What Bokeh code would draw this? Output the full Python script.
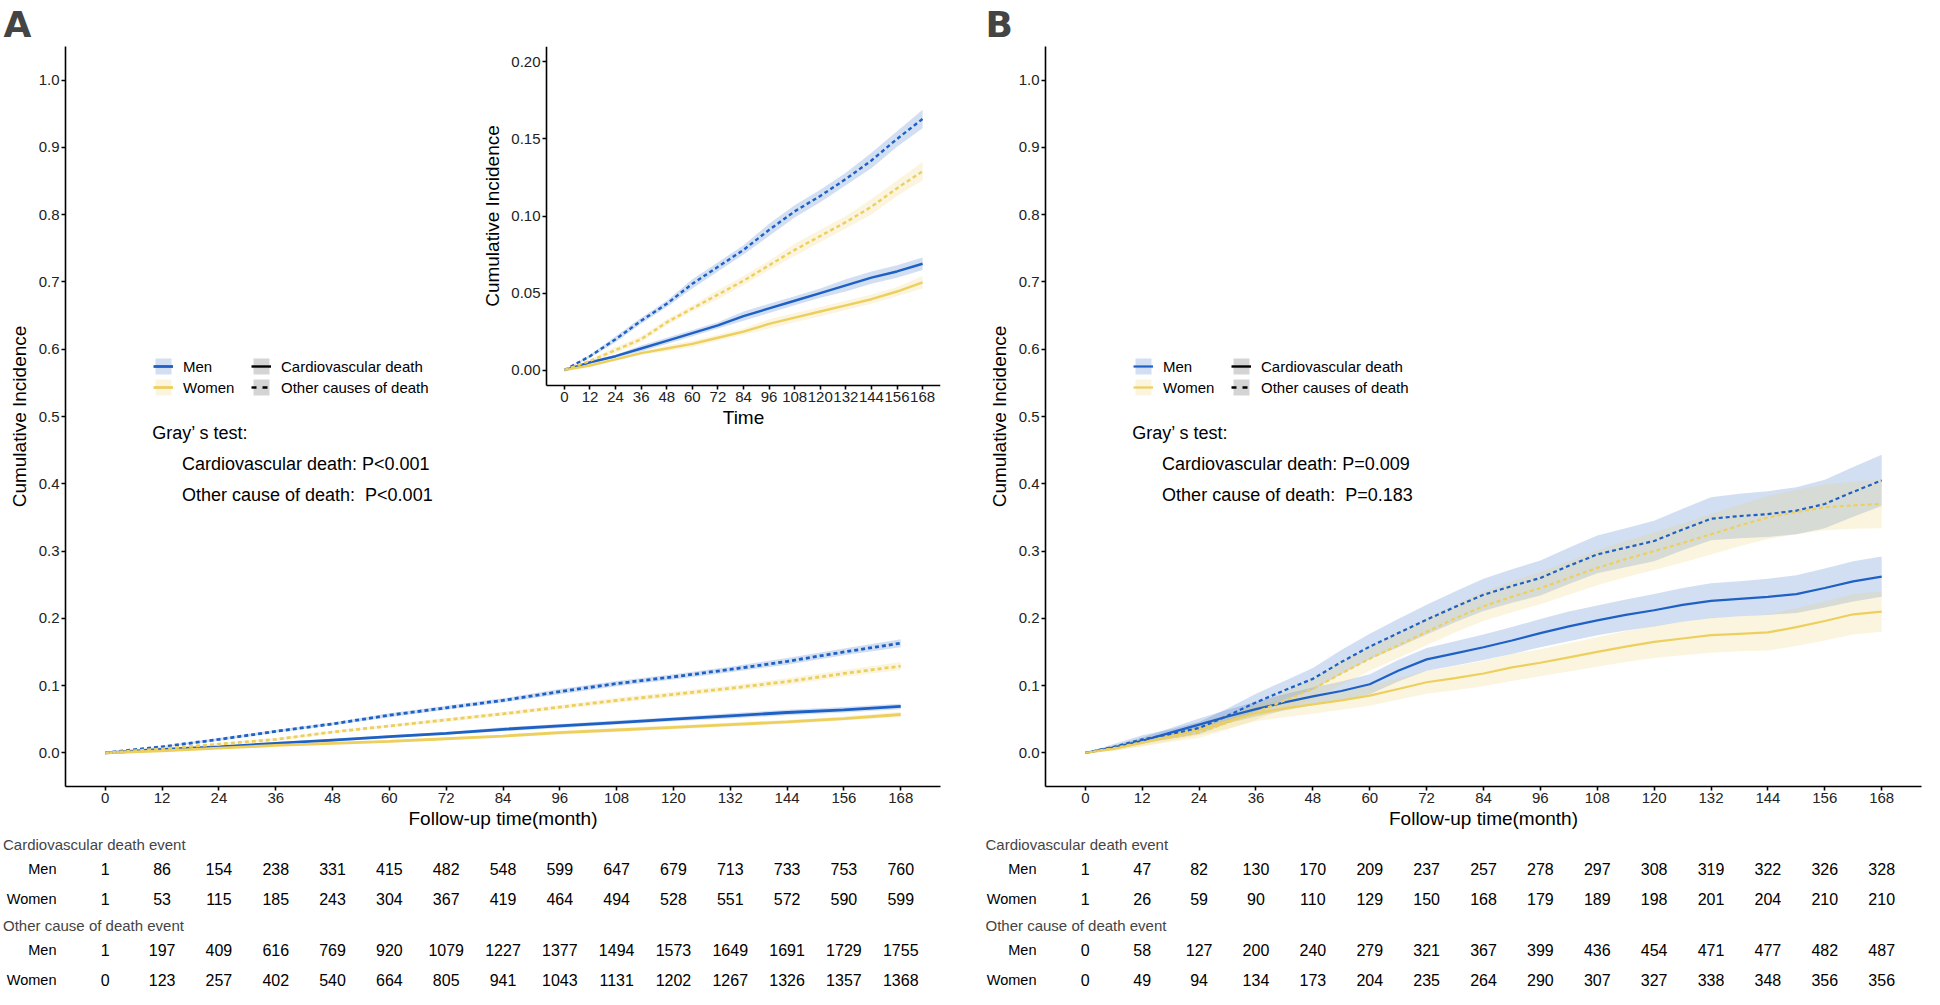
from bokeh.plotting import figure
from bokeh.models import (Range1d, LinearAxis, FixedTicker, PrintfTickFormatter, Legend,
                          LegendItem, Label, ColumnDataSource)
from bokeh.layouts import row, column
from bokeh.embed import file_html
from bokeh.resources import INLINE
from bokeh.core.properties import value

FONT = "Liberation Sans"
BLUE = "#1E60C3"
YELLOW = "#EDCF5E"
NAN = float("nan")

# ---------------- data ----------------
months_A = [0, 12, 24, 36, 48, 60, 72, 84, 96, 108, 120, 132, 144, 156, 168]
a_men_cv = [0, .005, .009, .014, .019, .024, .029, .035, .040, .045, .050, .055, .060, .064, .069]
a_men_cv_lo = [0, .004, .008, .012, .017, .022, .027, .032, .037, .042, .047, .051, .056, .060, .065]
a_men_cv_hi = [0, .006, .010, .016, .021, .026, .031, .038, .043, .048, .053, .059, .064, .068, .073]
a_women_cv = [0, .003, .007, .011, .014, .017, .021, .025, .030, .034, .038, .042, .046, .051, .057]
a_women_cv_lo = [0, .002, .006, .010, .012, .015, .019, .023, .027, .031, .035, .039, .043, .048, .053]
a_women_cv_hi = [0, .004, .008, .012, .016, .019, .023, .027, .033, .037, .041, .045, .049, .054, .061]
a_men_oc = [0, .009, .020, .032, .043, .056, .067, .078, .091, .103, .113, .124, .136, .150, .163]
a_men_oc_lo = [0, .008, .018, .030, .041, .053, .064, .075, .087, .099, .109, .120, .131, .145, .157]
a_men_oc_hi = [0, .010, .022, .034, .045, .059, .070, .081, .095, .107, .117, .128, .141, .155, .169]
a_women_oc = [0, .006, .013, .020, .031, .040, .049, .058, .068, .078, .087, .096, .106, .118, .129]
a_women_oc_lo = [0, .005, .011, .018, .029, .038, .046, .055, .065, .074, .083, .092, .101, .113, .123]
a_women_oc_hi = [0, .007, .015, .022, .033, .042, .052, .061, .071, .082, .091, .100, .111, .123, .135]

months_B = [0, 6, 12, 18, 24, 30, 36, 42, 48, 54, 60, 66, 72, 78, 84, 90, 96, 102, 108, 114,
            120, 126, 132, 138, 144, 150, 156, 162, 168]
b_men_cv = [0, .008, .018, .030, .042, .054, .065, .075, .084, .092, .102, .122, .139, .148, .157,
            .167, .178, .188, .197, .205, .212, .220, .226, .229, .232, .236, .245, .255, .262]
b_men_cv_lo = [0, .005, .013, .023, .033, .044, .054, .063, .071, .078, .087, .106, .122, .130, .138,
               .147, .157, .166, .175, .182, .188, .195, .200, .203, .205, .208, .216, .225, .232]
b_men_cv_hi = [0, .011, .023, .037, .051, .064, .076, .087, .097, .106, .117, .138, .156, .166, .176,
               .187, .199, .210, .219, .228, .236, .245, .252, .255, .259, .264, .274, .285, .292]
b_women_cv = [0, .006, .015, .025, .035, .047, .059, .066, .072, .078, .085, .095, .105, .111, .118,
              .127, .134, .142, .150, .158, .165, .170, .175, .177, .179, .187, .196, .206, .210]
b_women_cv_lo = [0, .003, .010, .018, .026, .036, .047, .053, .058, .064, .070, .079, .088, .093, .099,
                 .107, .114, .121, .128, .135, .141, .145, .149, .151, .152, .159, .167, .176, .180]
b_women_cv_hi = [0, .009, .020, .032, .044, .058, .071, .079, .086, .092, .100, .111, .122, .129, .137,
                 .147, .154, .163, .172, .181, .189, .195, .201, .203, .206, .215, .225, .236, .240]
b_men_oc = [0, .009, .020, .028, .037, .055, .075, .093, .110, .135, .158, .178, .198, .217, .235,
            .248, .260, .278, .295, .305, .315, .332, .348, .352, .355, .360, .370, .388, .405]
b_men_oc_lo = [0, .005, .014, .021, .028, .044, .062, .079, .094, .117, .139, .157, .176, .194, .211,
               .223, .234, .251, .267, .276, .285, .301, .316, .319, .321, .325, .334, .351, .367]
b_men_oc_hi = [0, .013, .026, .035, .046, .066, .088, .107, .126, .153, .177, .199, .220, .240, .259,
               .273, .286, .305, .323, .334, .345, .363, .380, .385, .389, .395, .406, .425, .443]
b_women_oc = [0, .007, .016, .023, .030, .045, .060, .078, .095, .118, .140, .160, .180, .200, .218,
              .232, .245, .260, .275, .288, .300, .312, .325, .338, .350, .358, .365, .368, .370]
b_women_oc_lo = [0, .003, .010, .016, .022, .035, .049, .065, .080, .101, .122, .141, .160, .179, .196,
                 .209, .221, .235, .249, .261, .272, .283, .295, .307, .318, .325, .331, .333, .334]
b_women_oc_hi = [0, .011, .022, .030, .038, .055, .071, .091, .110, .135, .158, .179, .200, .221, .240,
                 .255, .269, .285, .301, .315, .328, .341, .355, .369, .382, .391, .399, .403, .406]

table_times = [0, 12, 24, 36, 48, 60, 72, 84, 96, 108, 120, 132, 144, 156, 168]
a_cv_men_n = [1, 86, 154, 238, 331, 415, 482, 548, 599, 647, 679, 713, 733, 753, 760]
a_cv_women_n = [1, 53, 115, 185, 243, 304, 367, 419, 464, 494, 528, 551, 572, 590, 599]
a_oc_men_n = [1, 197, 409, 616, 769, 920, 1079, 1227, 1377, 1494, 1573, 1649, 1691, 1729, 1755]
a_oc_women_n = [0, 123, 257, 402, 540, 664, 805, 941, 1043, 1131, 1202, 1267, 1326, 1357, 1368]
b_cv_men_n = [1, 47, 82, 130, 170, 209, 237, 257, 278, 297, 308, 319, 322, 326, 328]
b_cv_women_n = [1, 26, 59, 90, 110, 129, 150, 168, 179, 189, 198, 201, 204, 210, 210]
b_oc_men_n = [0, 58, 127, 200, 240, 279, 321, 367, 399, 436, 454, 471, 477, 482, 487]
b_oc_women_n = [0, 49, 94, 134, 173, 204, 235, 264, 290, 307, 327, 338, 348, 356, 356]

x_ticks = [0, 12, 24, 36, 48, 60, 72, 84, 96, 108, 120, 132, 144, 156, 168]
y_ticks = [0.0, 0.1, 0.2, 0.3, 0.4, 0.5, 0.6, 0.7, 0.8, 0.9, 1.0]
inset_y_ticks = [0.0, 0.05, 0.10, 0.15, 0.20]
group_labels = ["Men", "Women"]
cause_labels = ["Cardiovascular death", "Other causes of death"]
table_headers = ["Cardiovascular death event", "Other cause of death event"]
gray_A = ["Gray\u2019 s test:", "Cardiovascular death: P<0.001", "Other cause of death:\u00a0 P<0.001"]
gray_B = ["Gray\u2019 s test:", "Cardiovascular death: P=0.009", "Other cause of death:\u00a0 P=0.183"]

# ---------------- layout geometry (pixels) ----------------
X0, X1 = -8.4, 176.4
Y0, Y1 = -0.05, 1.05
IY0, IY1 = -0.01, 0.21
W_A, W_B = 952, 972
H_MAIN = 833
H_T1, H_T2 = 81, 75
T_TOP = 20
TOP, BOT = 46, 47
A_LEFT, A_RIGHT = 65, 12
B_LEFT, B_RIGHT = 93, 3
INSET_LEFT_PX = 546      # inset left edge, canvas px
INSET_BOTTOM_PX = 385    # inset bottom edge, canvas px


def style_axis(ax, ticks, fmt=None, label=None, lab_standoff=2):
    ax.ticker = FixedTicker(ticks=ticks)
    if fmt:
        ax.formatter = PrintfTickFormatter(format=fmt)
    ax.axis_line_color = "black"
    ax.axis_line_width = 1.6
    ax.major_tick_line_color = "black"
    ax.major_tick_line_width = 1.6
    ax.major_tick_out = 4
    ax.major_tick_in = 0
    ax.minor_tick_line_color = None
    ax.major_label_text_font = FONT
    ax.major_label_text_font_size = "15px"
    ax.major_label_text_color = "#222222"
    ax.major_label_standoff = 2
    if label:
        ax.axis_label = label
        ax.axis_label_text_font = FONT
        ax.axis_label_text_font_size = "19px"
        ax.axis_label_text_font_style = "normal"
        ax.axis_label_text_color = "black"
        ax.axis_label_standoff = lab_standoff


def draw_set(p, t, sets, lw, **kw):
    bands, lines = [], []
    for (y, lo, hi, color, dash) in sets:
        bands.append(p.varea(x=t, y1=lo, y2=hi, fill_color=color, fill_alpha=0.2, **kw))
    for (y, lo, hi, color, dash) in sets:
        lines.append(p.line(t, y, line_color=color, line_width=lw, line_dash=dash, **kw))
    return bands, lines


def main_fig(width, left, right, letter, letter_offset, sets, lw, gray_texts, xr):
    p = figure(width=width, height=H_MAIN, x_range=xr, y_range=Range1d(Y0, Y1),
               output_backend="svg", toolbar_location=None, min_border_left=left,
               min_border_right=right, min_border_top=TOP, min_border_bottom=BOT)
    p.outline_line_color = None
    p.grid.visible = False
    p.title.text = letter
    p.title.text_font = "DejaVu Sans"
    p.title.text_font_size = "36px"
    p.title.text_font_style = "bold"
    p.title.align = "left"
    p.title.offset = letter_offset
    p.title.vertical_align = "top"
    p.title.standoff = 0
    style_axis(p.xaxis[0], x_ticks, None, "Follow-up time(month)")
    style_axis(p.yaxis[0], y_ticks, "%.1f", "Cumulative Incidence", 6)

    bands, lines = draw_set(p, sets[0], sets[1], lw)
    leg1 = Legend(items=[LegendItem(label=group_labels[0], renderers=[bands[0], lines[0]]),
                         LegendItem(label=group_labels[1], renderers=[bands[1], lines[1]])],
                  location=(88, 389))
    gbox = p.varea(x=[NAN], y1=[NAN], y2=[NAN], fill_color="black", fill_alpha=0.17)
    gl1 = p.line([NAN], [NAN], line_color="black", line_width=2.4)
    gl2 = p.line([NAN], [NAN], line_color="black", line_width=2.4, line_dash="5 6")
    leg2 = Legend(items=[LegendItem(label=cause_labels[0], renderers=[gbox, gl1]),
                         LegendItem(label=cause_labels[1], renderers=[gbox, gl2])],
                  location=(186, 389))
    for lg in (leg1, leg2):
        lg.orientation = "vertical"
        lg.glyph_width = 20
        lg.glyph_height = 20
        lg.label_height = 20
        lg.label_standoff = 10
        lg.spacing = 1
        lg.padding = 0
        lg.margin = 0
        lg.border_line_color = None
        lg.background_fill_alpha = 0
        lg.label_text_font = FONT
        lg.label_text_font_size = "15px"
        lg.label_text_color = "black"
        p.add_layout(lg)
    for txt, xx, yy in zip(gray_texts, [9.9, 16.2, 16.2], [0.475, 0.430, 0.383]):
        p.add_layout(Label(x=xx, y=yy, text=txt, text_font=FONT, text_font_size="18px",
                           text_baseline="middle", text_color="black"))
    return p


def table_fig(width, left, right, height, y_lo, header, header_offset, men_n, women_n, xr):
    t = figure(width=width, height=height, x_range=xr, y_range=Range1d(y_lo, 1.5),
               output_backend="svg", toolbar_location=None, min_border_left=left,
               min_border_right=right, min_border_top=T_TOP, min_border_bottom=0,
               x_axis_type=None)
    t.outline_line_color = None
    t.grid.visible = False
    t.title.text = header
    t.title.text_font = FONT
    t.title.text_font_size = "15px"
    t.title.text_font_style = "normal"
    t.title.align = "left"
    t.title.offset = header_offset
    t.title.vertical_align = "middle"
    t.title.standoff = 0
    ax = t.yaxis[0]
    ax.ticker = FixedTicker(ticks=[0, 1])
    ax.major_label_overrides = {0: group_labels[1], 1: group_labels[0]}
    ax.axis_line_color = None
    ax.major_tick_line_color = None
    ax.minor_tick_line_color = None
    ax.major_label_standoff = 3
    ax.major_label_text_font = FONT
    ax.major_label_text_font_size = "14.5px"
    ax.major_label_text_color = "black"
    src = ColumnDataSource(dict(x=table_times + table_times,
                                y=[1] * len(men_n) + [0] * len(women_n),
                                t=[str(v) for v in men_n + women_n]))
    t.text(x="x", y="y", text="t", source=src, text_font=value(FONT), text_font_size="16px",
           text_align="center", text_baseline="middle", text_color="black")
    return t


setsA = (months_A, [
    (a_men_cv, a_men_cv_lo, a_men_cv_hi, BLUE, "solid"),
    (a_women_cv, a_women_cv_lo, a_women_cv_hi, YELLOW, "solid"),
    (a_men_oc, a_men_oc_lo, a_men_oc_hi, BLUE, "4 3"),
    (a_women_oc, a_women_oc_lo, a_women_oc_hi, YELLOW, "4 3"),
])
setsB = (months_B, [
    (b_men_cv, b_men_cv_lo, b_men_cv_hi, BLUE, "solid"),
    (b_women_cv, b_women_cv_lo, b_women_cv_hi, YELLOW, "solid"),
    (b_men_oc, b_men_oc_lo, b_men_oc_hi, BLUE, "4 3"),
    (b_women_oc, b_women_oc_lo, b_women_oc_hi, YELLOW, "4 3"),
])

xrA = Range1d(X0, X1)
xrB = Range1d(X0, X1)
pA = main_fig(W_A, A_LEFT, A_RIGHT, "A", 3 - A_LEFT, setsA, 2.8, gray_A, xrA)
pB = main_fig(W_B, B_LEFT, B_RIGHT, "B", 33 - B_LEFT, setsB, 2.2, gray_B, xrB)

# ---- inset inside panel A (extra ranges mapped onto a sub-rectangle of the frame) ----
fw = W_A - A_LEFT - A_RIGHT
fh = H_MAIN - TOP - BOT
inset_w = W_A - A_RIGHT - INSET_LEFT_PX
inset_h = INSET_BOTTOM_PX - TOP
span_x = (X1 - X0) * fw / inset_w
span_y = (IY1 - IY0) * fh / inset_h
pA.extra_x_ranges = {"ix": Range1d(X1 - span_x, X1)}
pA.extra_y_ranges = {"iy": Range1d(IY1 - span_y, IY1)}
draw_set(pA, setsA[0], setsA[1], 2.4, x_range_name="ix", y_range_name="iy")

ixa = LinearAxis(x_range_name="ix", y_range_name="iy", fixed_location=IY0, bounds=(X0, X1))
style_axis(ixa, x_ticks, None, "Time")
iya = LinearAxis(x_range_name="ix", y_range_name="iy", fixed_location=X0, bounds=(IY0, IY1))
style_axis(iya, inset_y_ticks, "%.2f", "Cumulative Incidence", 5)
pA.add_layout(ixa, "below")
pA.add_layout(iya, "left")

tA1 = table_fig(W_A, A_LEFT, A_RIGHT, H_T1, -0.5, table_headers[0], 2.5 - A_LEFT,
                a_cv_men_n, a_cv_women_n, xrA)
tA2 = table_fig(W_A, A_LEFT, A_RIGHT, H_T2, -0.3, table_headers[1], 2.5 - A_LEFT,
                a_oc_men_n, a_oc_women_n, xrA)
tB1 = table_fig(W_B, B_LEFT, B_RIGHT, H_T1, -0.5, table_headers[0], 33 - B_LEFT,
                b_cv_men_n, b_cv_women_n, xrB)
tB2 = table_fig(W_B, B_LEFT, B_RIGHT, H_T2, -0.3, table_headers[1], 33 - B_LEFT,
                b_oc_men_n, b_oc_women_n, xrB)

layout = row(column(pA, tA1, tA2), column(pB, tB1, tB2))
open("out.html", "w").write(file_html(layout, INLINE))
